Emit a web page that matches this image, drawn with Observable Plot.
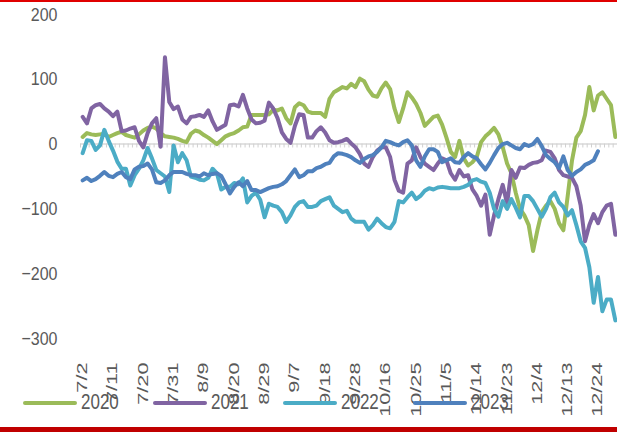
<!DOCTYPE html>
<html><head><meta charset="utf-8">
<script src="https://cdn.jsdelivr.net/npm/d3@7"></script>
<script src="https://cdn.jsdelivr.net/npm/@observablehq/plot@0.6"></script>
<style>
body{margin:0;background:#fff;}
#wrap{position:relative;width:617px;height:432px;overflow:hidden;font-family:"Liberation Sans",Arial,sans-serif;background:#fff;}
#topbar{position:absolute;left:0;top:0;width:617px;height:2px;background:#e00000;}
#botbar{position:absolute;left:0;top:427px;width:617px;height:5px;background:#c00000;}
#legend{position:absolute;left:23px;top:393px;display:flex;}
.item{width:130px;display:flex;align-items:center;height:20px;}
.sw{width:54px;height:4px;border-radius:2px;margin-right:4px;}
.lab{font-size:17px;color:#595959;display:inline-block;transform:scaleY(1.25);}
#chart{position:absolute;left:0;top:0;}
</style></head>
<body>
<div id="wrap"><div id="chart"></div><div id="topbar"></div><div id="botbar"></div><div id="legend"></div></div>
<script>
// trading-day categories (x axis)
const dates = [
"7/2","7/3","7/4","7/5","7/6","7/9","7/10","7/11","7/12","7/13","7/16","7/17","7/18","7/19","7/20","7/23","7/24","7/25","7/26","7/27","7/30","7/31",
"8/1","8/2","8/3","8/6","8/7","8/8","8/9","8/10","8/13","8/14","8/15","8/16","8/17","8/20","8/21","8/22","8/23","8/24","8/27","8/28","8/29","8/30","8/31",
"9/3","9/4","9/5","9/6","9/7","9/10","9/11","9/12","9/13","9/14","9/17","9/18","9/19","9/20","9/21","9/25","9/26","9/27","9/28",
"10/8","10/9","10/10","10/11","10/12","10/15","10/16","10/17","10/18","10/19","10/22","10/23","10/24","10/25","10/26","10/29","10/30","10/31",
"11/1","11/2","11/5","11/6","11/7","11/8","11/9","11/12","11/13","11/14","11/15","11/16","11/19","11/20","11/21","11/22","11/23","11/26","11/27","11/28","11/29","11/30",
"12/3","12/4","12/5","12/6","12/7","12/10","12/11","12/12","12/13","12/14","12/17","12/18","12/19","12/20","12/21","12/24","12/25","12/26","12/27","12/28"];
const tickLabels = ["7/2","7/11","7/20","7/31","8/9","8/20","8/29","9/7","9/18","9/28","10/16","10/25","11/5","11/14","11/23","12/4","12/13","12/24"];
const yTicks = [-300,-200,-100,0,100,200];
const seriesNames = ["2020","2021","2022","2023"];
const seriesColors = ["#9bbb59","#8064a2","#4bacc6","#4f81bd"];

const v2020 = [11,17,15,14,15,16,11,14,17,19,
14,12,10,15,21,25,27,24,17,12,
11,10,8,5,3,16,21,19,14,10,
5,0,6,12,15,17,21,26,27,45,
45,45,45,46,53,52,55,40,32,57,
63,60,50,48,48,48,42,70,80,84,
88,86,93,88,101,97,84,75,73,86,
95,85,55,34,55,80,72,62,48,28,
35,42,44,30,10,-12,-20,5,-22,-33,
-28,-20,3,12,18,25,15,-5,-30,-45,
-75,-100,-110,-125,-165,-133,-105,-95,-88,-100,
-122,-133,-80,-25,10,20,45,88,52,75,
80,70,60,11];
const v2021 = [42,32,55,60,62,55,50,43,50,20,
21,24,26,5,-5,17,32,40,-4,134,
65,54,58,38,32,42,43,45,42,52,
35,22,26,30,60,61,58,76,55,38,
32,33,36,64,55,40,18,8,2,28,
46,45,10,10,20,26,18,6,2,3,
5,8,1,-5,-15,-30,-35,-20,-10,-5,
-5,-20,-55,-72,-75,-30,-25,-5,-20,-30,
-35,-40,-30,-22,-25,-45,-55,-40,-50,-48,
-70,-80,-95,-78,-140,-110,-85,-63,-92,-40,
-52,-36,-37,-32,-29,-28,-25,-10,-12,-22,
-40,-48,-50,-52,-65,-95,-150,-125,-108,-122,
-105,-95,-92,-140];
const v2022 = [-14,6,5,-9,-2,22,5,-10,-27,-38,
-38,-64,-48,-38,-25,-6,-22,-40,-45,-50,
-74,-2,-28,-14,-25,-50,-52,-55,-56,-52,
-38,-45,-70,-66,-66,-60,-62,-53,-90,-80,
-75,-86,-113,-92,-95,-97,-105,-120,-110,-97,
-90,-88,-97,-97,-95,-88,-85,-82,-95,-100,
-105,-103,-115,-120,-120,-120,-132,-125,-115,-122,
-128,-130,-120,-88,-90,-82,-75,-85,-80,-72,
-68,-70,-67,-66,-67,-68,-68,-68,-66,-63,
-56,-54,-58,-60,-75,-100,-112,-88,-100,-85,
-98,-113,-80,-80,-88,-100,-112,-100,-82,-75,
-90,-97,-110,-102,-125,-150,-160,-190,-245,-205,
-258,-240,-240,-272];
const v2023 = [-56,-52,-57,-54,-49,-43,-49,-51,-46,-43,
-51,-54,-39,-35,-34,-30,-39,-59,-60,-56,
-48,-43,-43,-43,-46,-48,-48,-50,-45,-48,
-46,-45,-49,-62,-76,-66,-59,-65,-57,-71,
-71,-74,-71,-68,-66,-65,-62,-57,-48,-39,
-51,-48,-42,-42,-37,-35,-31,-29,-19,-14,
-15,-17,-20,-25,-29,-23,-19,-17,-12,-5,
5,3,0,-2,3,6,-2,-25,-35,-19,
-8,-8,-12,-28,-25,-22,-28,-29,-20,-14,
-19,-22,-31,-39,-29,-17,-6,0,2,-2,
-6,-8,0,-3,0,8,-3,-17,-23,-28,
-37,-19,-40,-49,-43,-39,-32,-29,-25,-11];

const allValues = [v2020, v2021, v2022, v2023];
const rows = [];
seriesNames.forEach((s, k) => allValues[k].forEach((v, i) => rows.push({series: s, i, value: v})));
const tickIdx = tickLabels.map(l => dates.indexOf(l));
const bounds = d3.range(dates.length + 1).map(i => i - 0.5);

const chart = Plot.plot({
  width: 617, height: 427,
  marginTop: 14, marginBottom: 89, marginLeft: 80, marginRight: 0,
  x: {type: "linear", domain: [-0.5, dates.length - 0.5], label: null},
  y: {domain: [-300, 200], label: null},
  color: {domain: seriesNames, range: seriesColors},
  style: {fontFamily: "Liberation Sans, Arial, sans-serif", color: "#595959", background: "transparent", overflow: "visible"},
  marks: [
    Plot.ruleY([0], {stroke: "#d9d9d9", strokeWidth: 1.5}),
    Plot.ruleX(bounds, {y1: 0, y2: -6, stroke: "#d0d0d0", strokeWidth: 1}),
    Plot.axisY(yTicks, {tickSize: 0, tickPadding: 23, fontSize: 16, fill: "#595959", label: null,
      tickFormat: d => (d < 0 ? "\u2212" : "") + Math.abs(d)}),
    Plot.axisX(tickIdx, {tickSize: 0, tickPadding: 24, tickRotate: -90, fontSize: 14, fill: "#595959", label: null,
      tickFormat: i => dates[i]}),
    Plot.line(rows, {x: "i", y: "value", z: "series", stroke: "series", strokeWidth: 4,
      strokeLinejoin: "round", strokeLinecap: "round"})
  ]
});
document.getElementById("chart").appendChild(chart);
// stretch tick labels like the reference rendering
d3.select(chart).selectAll('g[aria-label="x-axis tick label"] text')
  .attr("transform", function(){ return (this.getAttribute("transform")||"") + " scale(1.55,1)"; });
d3.select(chart).selectAll('g[aria-label="y-axis tick label"] text')
  .attr("transform", function(){ return (this.getAttribute("transform")||"") + " scale(1,1.2)"; });

const leg = d3.select("#legend");
seriesNames.forEach((s, k) => {
  const it = leg.append("div").attr("class", "item");
  it.append("span").attr("class", "sw").style("background", seriesColors[k]);
  it.append("span").attr("class", "lab").text(s);
});
</script>
</body></html>
